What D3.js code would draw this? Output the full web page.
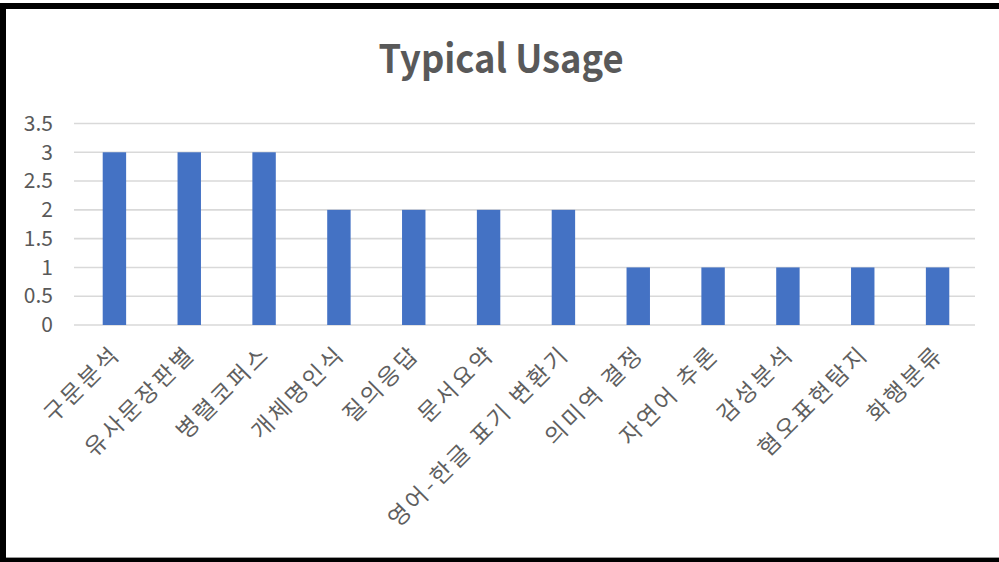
<!DOCTYPE html>
<html>
<head>
<meta charset="utf-8">
<script src="https://cdn.jsdelivr.net/npm/d3@7"></script>
<style>
  html, body { margin: 0; padding: 0; background: #fff; }
  svg { display: block; }
</style>
</head>
<body>
<script>
// Task categories and how often each one appears
const categories = ["구문분석", "유사문장판별", "병렬코퍼스", "개체명인식", "질의응답", "문서요약",
  "영어-한글 표기 변환기", "의미역 결정", "자연어 추론", "감성분석", "혐오표현탐지", "화행분류"];
const usageCounts = [3, 3, 3, 2, 2, 2, 2, 1, 1, 1, 1, 1];
const yTicks = [0, 0.5, 1, 1.5, 2, 2.5, 3, 3.5];
const chartTitle = "Typical Usage";

const W = 999, H = 562;
const FONT = "'Noto Sans CJK KR', 'Noto Sans', sans-serif";

const svg = d3.select("body").append("svg")
  .attr("width", W).attr("height", H);

svg.append("rect").attr("width", W).attr("height", H).attr("fill", "#fff");

// Frame (left, top and bottom edges)
svg.append("line").attr("x1", 3).attr("x2", 3).attr("y1", 3).attr("y2", 562)
  .attr("stroke", "#000").attr("stroke-width", 6);
svg.append("line").attr("x1", 0).attr("x2", W).attr("y1", 6).attr("y2", 6)
  .attr("stroke", "#000").attr("stroke-width", 6);
svg.append("line").attr("x1", 0).attr("x2", W).attr("y1", 560).attr("y2", 560)
  .attr("stroke", "#000").attr("stroke-width", 4);
svg.append("line").attr("x1", 6).attr("x2", W).attr("y1", 557.5).attr("y2", 557.5)
  .attr("stroke", "#9a9a9a").attr("stroke-width", 1);

const x = d3.scaleBand()
  .domain(categories)
  .range([77, 975])
  .paddingInner(0.687)
  .paddingOuter(0.3435);

const y = d3.scaleLinear()
  .domain([0, 3.5])
  .range([325, 123.5]);

// Title
svg.append("text")
  .attr("x", 501).attr("y", 73)
  .attr("text-anchor", "middle")
  .attr("font-family", FONT)
  .attr("font-weight", "bold")
  .attr("font-size", 39)
  .attr("fill", "#595959")
  .attr("textLength", 245)
  .attr("lengthAdjust", "spacingAndGlyphs")
  .text(chartTitle);

// Horizontal gridlines
svg.append("g")
  .selectAll("line")
  .data(yTicks)
  .join("line")
  .attr("x1", 74).attr("x2", 975)
  .attr("y1", d => y(d)).attr("y2", d => y(d))
  .attr("stroke", "#d9d9d9")
  .attr("stroke-width", 1.6);

// Y axis labels
const yAxis = d3.axisLeft(y).tickValues(yTicks).tickSize(0).tickPadding(0)
  .tickFormat(d => String(d));
const gy = svg.append("g").attr("transform", "translate(53,0)").call(yAxis);
gy.select(".domain").remove();
gy.selectAll("text")
  .attr("font-family", FONT)
  .attr("font-size", 21)
  .attr("fill", "#595959");

// Bars
svg.append("g")
  .selectAll("rect")
  .data(categories)
  .join("rect")
  .attr("x", d => x(d))
  .attr("width", x.bandwidth())
  .attr("y", (d, i) => y(usageCounts[i]))
  .attr("height", (d, i) => y(0) - y(usageCounts[i]))
  .attr("fill", "#4472C4");

// Category labels, rotated
const xAxis = d3.axisBottom(x).tickSize(0).tickPadding(0);
const gx = svg.append("g").attr("transform", "translate(0,325)").call(xAxis);
gx.select(".domain").remove();
gx.selectAll("text")
  .attr("font-family", FONT)
  .attr("font-size", 23)
  .attr("letter-spacing", "3px")
  .attr("fill", "#5f5f5f")
  .attr("text-anchor", "end")
  .attr("dy", null)
  .attr("y", 0)
  .attr("transform", "translate(3,26) rotate(-45)")
  .attr("dominant-baseline", "middle");
</script>
</body>
</html>
